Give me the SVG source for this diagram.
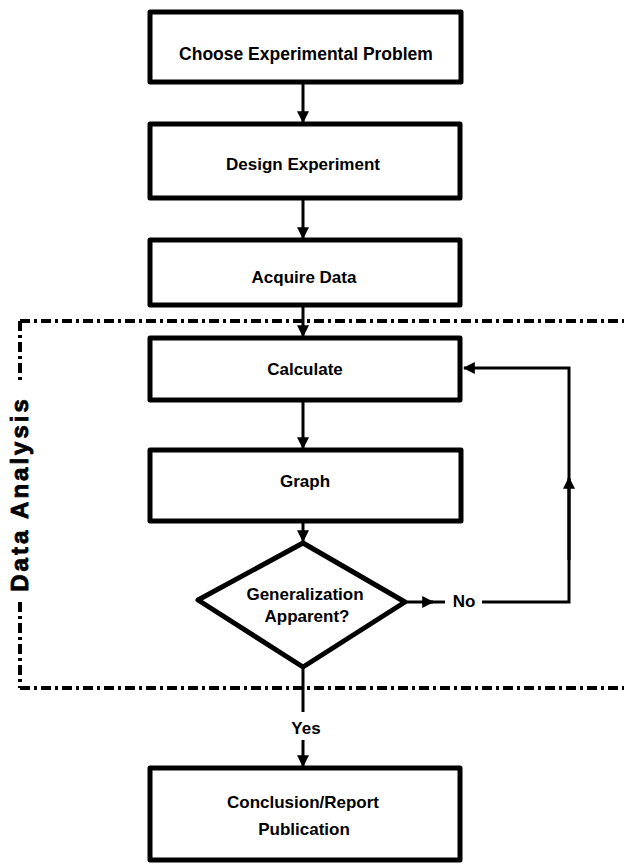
<svg xmlns="http://www.w3.org/2000/svg" width="624" height="865" viewBox="0 0 624 865">
<style>
.box{fill:#fff;stroke:#000;stroke-width:5;stroke-linejoin:round}
.lbl{font-family:"Liberation Sans",Arial,sans-serif;font-weight:bold;font-size:17px;fill:#000;text-anchor:middle}
.con{fill:none;stroke:#000;stroke-width:3}
.dd{fill:none;stroke:#000;stroke-width:4;stroke-dasharray:10 4 3 4}
.side{font-size:24px;letter-spacing:3px;stroke:#000;stroke-width:0.8px}
</style>
<defs>
<marker id="ah" viewBox="0 0 10 10" refX="9" refY="5" markerWidth="4" markerHeight="4" orient="auto" markerUnits="strokeWidth">
<path d="M0,0 L10,5 L0,10 z" fill="#000"/>
</marker>
</defs>
<rect width="624" height="865" fill="#fff"/>
<g id="region">
<line class="dd" x1="20" y1="321" x2="624" y2="321"/>
<line class="dd" x1="20" y1="688" x2="624" y2="688"/>
<line class="dd" x1="20" y1="321" x2="20" y2="384"/>
<line class="dd" x1="20" y1="602" x2="20" y2="688"/>
<text class="lbl side" transform="translate(28,494) rotate(-90)">Data Analysis</text>
</g>
<g id="connectors">
<line class="con" x1="303" y1="82" x2="303" y2="122" marker-end="url(#ah)"/>
<line class="con" x1="303" y1="198" x2="303" y2="238" marker-end="url(#ah)"/>
<line class="con" x1="303" y1="305" x2="303" y2="336" marker-end="url(#ah)"/>
<line class="con" x1="303" y1="400" x2="303" y2="448" marker-end="url(#ah)"/>
<line class="con" x1="303" y1="521" x2="303" y2="541" marker-end="url(#ah)"/>
<line class="con" x1="405" y1="602" x2="433" y2="602" marker-end="url(#ah)"/>
<line class="con" x1="430" y1="602" x2="445" y2="602"/>
<polyline class="con" points="482,602 569,602 569,368 464,368" marker-end="url(#ah)"/>
<line class="con" x1="569" y1="560" x2="569" y2="478" marker-end="url(#ah)"/>
<line class="con" x1="303" y1="667" x2="303" y2="712"/>
<line class="con" x1="303" y1="740" x2="303" y2="766" marker-end="url(#ah)"/>
<text class="lbl" x="464" y="607">No</text>
<text class="lbl" x="306" y="734">Yes</text>
</g>
<g id="choose">
<rect class="box" x="150" y="12" width="311" height="70"/>
<text class="lbl" x="306" y="60" style="font-size:17.5px">Choose  Experimental Problem</text>
</g>
<g id="design">
<rect class="box" x="150" y="124" width="310" height="74"/>
<text class="lbl" x="303" y="170">Design Experiment</text>
</g>
<g id="acquire">
<rect class="box" x="150" y="240" width="310" height="65"/>
<text class="lbl" x="304" y="283">Acquire Data</text>
</g>
<g id="calculate">
<rect class="box" x="150" y="338" width="310" height="62"/>
<text class="lbl" x="305" y="375">Calculate</text>
</g>
<g id="graph">
<rect class="box" x="150" y="450" width="311" height="71"/>
<text class="lbl" x="305" y="487">Graph</text>
</g>
<g id="decision">
<polygon class="box" points="303,543 405,602 303,667 198,600"/>
<text class="lbl" x="305" y="600">Generalization</text>
<text class="lbl" x="307" y="622">Apparent?</text>
</g>
<g id="conclusion">
<rect class="box" x="150" y="768" width="310" height="92"/>
<text class="lbl" x="303" y="808">Conclusion/Report</text>
<text class="lbl" x="304" y="835">Publication</text>
</g>
</svg>
